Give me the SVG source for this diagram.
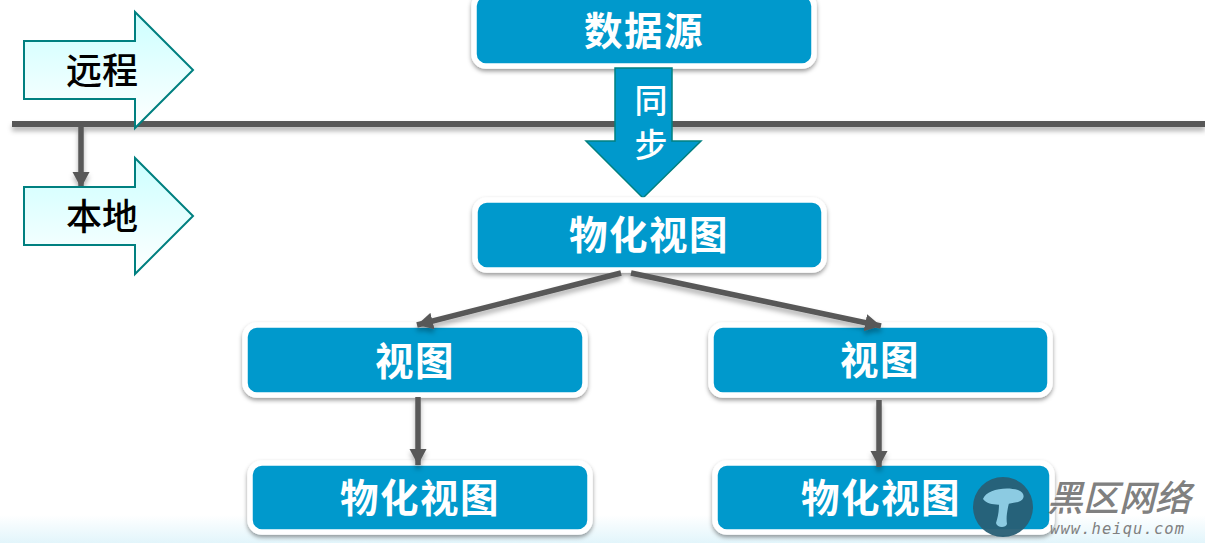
<svg xmlns="http://www.w3.org/2000/svg" width="1205" height="543" viewBox="0 0 1205 543">
<defs>
<linearGradient id="bg" x1="0" y1="0" x2="0" y2="1"><stop offset="0" stop-color="#ffffff"/><stop offset="1" stop-color="#e2f5fb"/></linearGradient>
<linearGradient id="cy" x1="0" y1="0" x2="0" y2="1"><stop offset="0" stop-color="#ccffff"/><stop offset="1" stop-color="#ffffff"/></linearGradient>
<filter id="sh" x="-10%" y="-20%" width="120%" height="150%"><feDropShadow dx="0" dy="2.5" stdDeviation="2" flood-color="#000" flood-opacity="0.4"/></filter>
<filter id="ls" filterUnits="userSpaceOnUse" x="0" y="0" width="1205" height="543"><feDropShadow dx="0" dy="4" stdDeviation="2.5" flood-color="#000" flood-opacity="0.3"/></filter>
<marker id="ah" markerUnits="userSpaceOnUse" markerWidth="18" markerHeight="18" refX="16" refY="9" orient="auto"><path d="M0 0.5L16 9L0 17.5Z" fill="#595959"/></marker>
</defs>
<style>
.box{fill:#0099cc;stroke:#fff;stroke-width:5.5;filter:url(#sh)}
.t{font-family:"Noto Sans CJK SC","Liberation Sans",sans-serif;font-weight:700;font-size:38.5px;letter-spacing:1.5px;fill:#fff;text-anchor:middle}
.side{fill:url(#cy);stroke:#008080;stroke-width:2}
.sl{font-family:"Noto Sans CJK SC","Liberation Sans",sans-serif;font-weight:500;font-size:36px;fill:#000;text-anchor:middle}
.s2{font-family:"Noto Sans CJK SC","Liberation Sans",sans-serif;font-weight:500;font-size:33px;fill:#fff;text-anchor:middle}
.c{stroke:#595959;stroke-width:5.5;fill:none;marker-end:url(#ah);filter:url(#ls)}
</style>
<rect width="1205" height="543" fill="#fff"/>
<rect y="515" width="1205" height="28" fill="url(#bg)"/>
<g id="divider"><line x1="12" y1="124" x2="1205" y2="124" stroke="#595959" stroke-width="6" filter="url(#ls)"/></g>
<g id="remote"><path class="side" d="M24 41H135V12L193 70L135 128V99H24Z"/><text class="sl" x="102" y="84">远程</text></g>
<g id="source"><rect class="box" x="474" y="-6" width="340" height="72" rx="12"/><text class="t" x="644" y="45">数据源</text></g>
<g id="sync"><path d="M615 68H672V141H701L643 198L586 141H615Z" fill="#0099cc" stroke="#008080" stroke-width="1.5"/>
<text class="s2" x="651" y="113">同</text><text class="s2" x="651" y="157">步</text></g>
<g id="mv-top"><rect class="box" x="475" y="200" width="349" height="70" rx="12"/><text class="t" x="649" y="249">物化视图</text></g>
<g id="view-left"><rect class="box" x="245" y="325" width="340" height="70" rx="12"/><text class="t" x="415" y="375">视图</text></g>
<g id="view-right"><rect class="box" x="711" y="325" width="339" height="70" rx="12"/><text class="t" x="880" y="374">视图</text></g>
<g id="mv-left"><rect class="box" x="250" y="463" width="340" height="69" rx="12"/><text class="t" x="420" y="512">物化视图</text></g>
<g id="mv-right"><rect class="box" x="715" y="463" width="337" height="69" rx="12"/><text class="t" x="881" y="512">物化视图</text></g>
<g id="connectors">
<line class="c" x1="81" y1="126" x2="81" y2="188"/>
<line class="c" x1="621" y1="273" x2="417" y2="325"/>
<line class="c" x1="631" y1="273" x2="881" y2="326"/>
<line class="c" x1="418" y1="397" x2="418" y2="465"/>
<line class="c" x1="879" y1="400" x2="879" y2="467"/>
</g>
<g id="local"><path class="side" d="M24 187H135V158L193 216L135 274V245H24Z"/><text class="sl" x="102" y="230">本地</text></g>
<g id="watermark">
<circle cx="1003" cy="507" r="30" fill="#285f75" fill-opacity="0.95"/>
<path d="M983 499C986 490 1005 486 1018 490C1026 493 1025 500 1018 502C1008 504 990 508 983 499Z" fill="#8ccbe2"/>
<path d="M999 504L1009 503C1007 511 1006 518 1007 524C1006 528 997 528 996 523C998 517 999 511 999 504Z" fill="#8ccbe2"/>
<text x="1119" y="511" font-family="'Noto Sans CJK SC',sans-serif" font-weight="500" font-style="italic" font-size="36" fill="#808080" text-anchor="middle">黑区网络</text>
<text x="1050" y="534" font-family="'DejaVu Sans Mono','Liberation Mono',monospace" font-style="italic" font-size="15.5" fill="#808080" textLength="134">www.heiqu.com</text>
</g>
</svg>
